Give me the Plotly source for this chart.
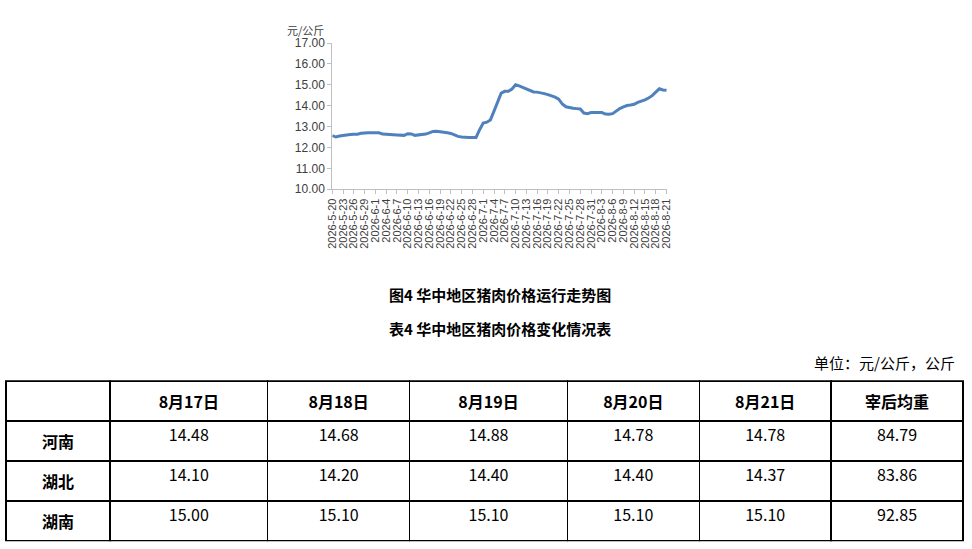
import pandas as pd
import plotly.graph_objects as go

W, H = 972, 549

# daily price series 2026-5-20 .. 2026-8-21 (元/公斤)
dates = pd.date_range('2026-05-20', '2026-08-21', freq='D')
prices = [12.57, 12.50, 12.55, 12.58, 12.60, 12.62, 12.63, 12.63, 12.68, 12.71,
          12.71, 12.71, 12.72, 12.70, 12.64, 12.62, 12.62, 12.61, 12.60, 12.59,
          12.58, 12.66, 12.65, 12.58, 12.60, 12.62, 12.64, 12.70, 12.77, 12.78,
          12.77, 12.73, 12.70, 12.67, 12.60, 12.53, 12.50, 12.48, 12.48, 12.48,
          12.48, 12.85, 13.17, 13.21, 13.32, 13.74, 14.14, 14.60, 14.69, 14.69,
          14.80, 15.00, 14.95, 14.88, 14.80, 14.71, 14.66, 14.65, 14.63, 14.58,
          14.53, 14.47, 14.41, 14.31, 14.08, 13.95, 13.90, 13.88, 13.86, 13.84,
          13.65, 13.62, 13.67, 13.67, 13.67, 13.67, 13.60, 13.59, 13.62, 13.76,
          13.86, 13.94, 14.01, 14.03, 14.07, 14.16, 14.21, 14.28, 14.37, 14.48,
          14.65, 14.81, 14.75, 14.74]

# table 4
regions = ['河南', '湖北', '湖南']
day_cols = ['8月17日', '8月18日', '8月19日', '8月20日', '8月21日', '宰后均重']
henan = ['14.48', '14.68', '14.88', '14.78', '14.78', '84.79']
hubei = ['14.10', '14.20', '14.40', '14.40', '14.37', '83.86']
hunan = ['15.00', '15.10', '15.10', '15.10', '15.10', '92.85']

CJK = 'Noto Sans CJK SC'

def px_x(v):
    return v / W

def px_y(v):
    return 1 - v / H

fig = go.Figure()
fig.add_trace(go.Scatter(x=dates, y=prices, mode='lines',
                         line=dict(color='#4F81BD', width=3),
                         showlegend=False, hoverinfo='x+y'))

rows = [henan, hubei, hunan]
cols = [['<b>%s</b>' % r for r in regions]]
for i in range(len(day_cols)):
    cols.append([r[i] for r in rows])

# table sits a little inside its domain, so the domain is widened to compensate
fig.add_trace(go.Table(
    domain=dict(x=[0, px_x(968)], y=[0, px_y(384)]),
    columnwidth=[104, 158, 142, 158, 132, 132, 132],
    header=dict(values=[''] + ['<b>%s</b>' % c for c in day_cols],
                align='center', height=35,
                line=dict(color='black', width=1.5),
                fill=dict(color='white'),
                font=dict(family=CJK, size=16, color='black')),
    cells=dict(values=cols, align='center', height=40,
               line=dict(color='black', width=1.5),
               fill=dict(color='white'),
               font=dict(family=CJK, size=16, color='black')),
))

fig.update_xaxes(domain=[px_x(330), px_x(669)],
                 type='date',
                 range=['2026-05-20', '2026-08-21 06:00'],
                 tick0='2026-05-20', dtick=3 * 86400000,
                 tickformat='%Y-%-m-%-d', tickangle=-90,
                 tickfont=dict(family='Liberation Sans', size=11, color='#404040'),
                 showgrid=False, zeroline=False,
                 showline=True, linecolor='#bfbfbf', linewidth=1,
                 ticks='outside', ticklen=4, tickcolor='#bfbfbf')
fig.update_yaxes(domain=[px_y(187), px_y(37)],
                 range=[10, 17], dtick=1, tickformat='.2f',
                 tickfont=dict(family='Liberation Sans', size=12, color='#404040'),
                 showgrid=False, zeroline=False,
                 showline=True, linecolor='#bfbfbf', linewidth=1,
                 ticks='outside', ticklen=4, tickcolor='#bfbfbf')

notes = [
    dict(text='元/公斤', x=px_x(303), y=px_y(23.5), size=11, color='#404040', xanchor='center'),
    dict(text='<b>图4 华中地区猪肉价格运行走势图</b>', x=px_x(500), y=px_y(295), size=15, color='black', xanchor='center'),
    dict(text='<b>表4 华中地区猪肉价格变化情况表</b>', x=px_x(500), y=px_y(330), size=15, color='black', xanchor='center'),
    dict(text='单位：元/公斤，公斤', x=px_x(962), y=px_y(365), size=15, color='black', xanchor='right'),
]
for n in notes:
    fig.add_annotation(text=n['text'], x=n['x'], y=n['y'], xref='paper', yref='paper',
                       xanchor=n['xanchor'], yanchor='middle', showarrow=False,
                       font=dict(family=CJK, size=n['size'], color=n['color']))

fig.update_layout(width=W, height=H, margin=dict(l=0, r=0, t=0, b=0),
                  paper_bgcolor='white', plot_bgcolor='white')

# plotly's page keeps the browser's default 8px body margin
fig.write_html('out.html', config={'displayModeBar': False},
               post_script="document.body.style.margin='0';")
